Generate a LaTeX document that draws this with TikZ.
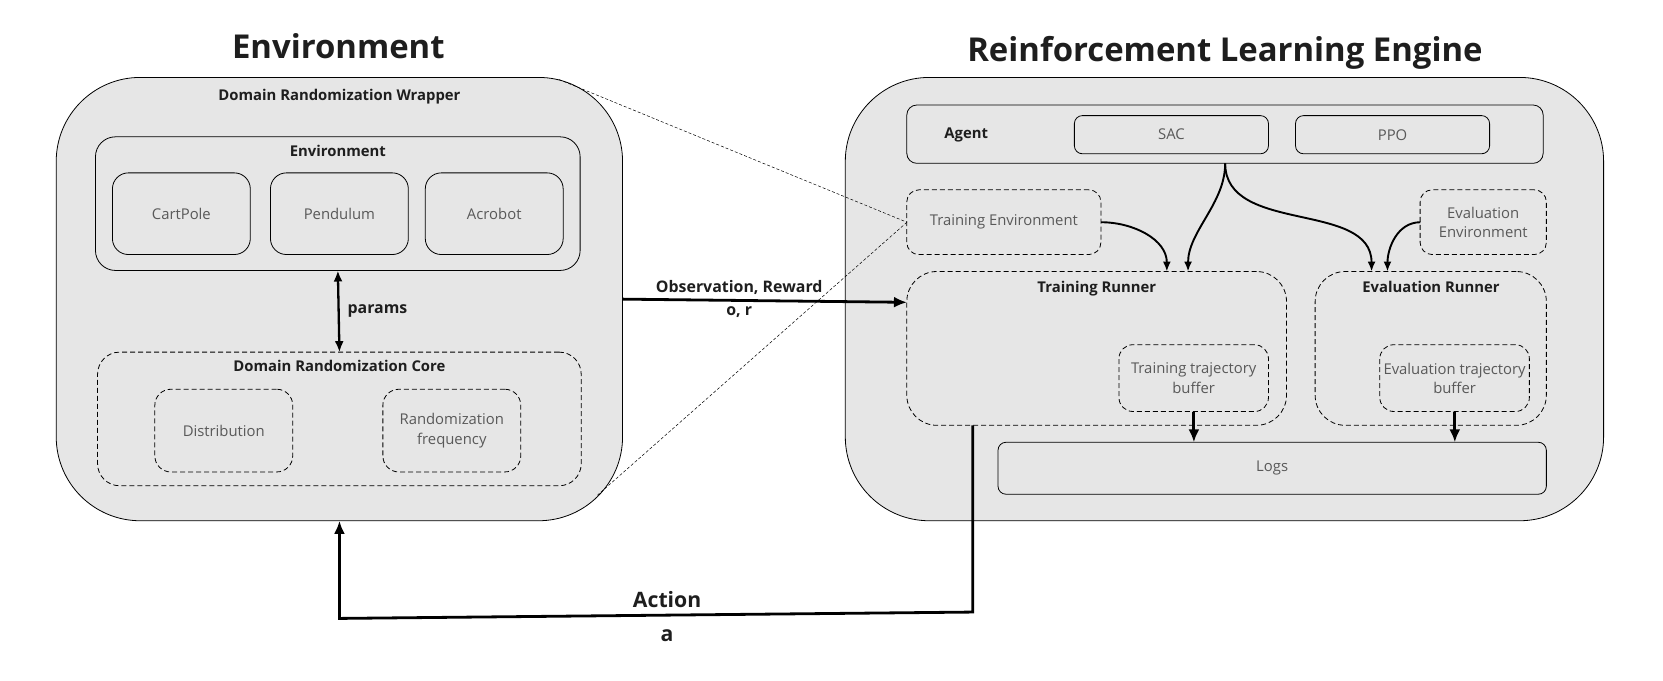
\documentclass[tikz,border=0pt]{standalone}
\usepackage{fontspec}
\setmainfont{Open Sans}
\usetikzlibrary{shapes,arrows,arrows.meta,calc,positioning,backgrounds}

\definecolor{boxgray}{HTML}{E6E6E6}
\definecolor{txtgray}{HTML}{595959}
\definecolor{ttlblack}{HTML}{1E1E1E}

\begin{document}
\begin{tikzpicture}[x=1pt,y=-1pt,scale=1.0606,transform shape,
  box/.style={draw,fill=boxgray,rectangle,rounded corners=#1,inner sep=0pt,outer sep=0pt,line width=0.8pt},
  box/.default=16pt,
  dbox/.style={box=#1,dash pattern=on 5pt off 3pt},
  dbox/.default=16pt,
  item/.style={text=txtgray,font=\fontsize{14}{18}\selectfont,align=center},
  ttl/.style={text=ttlblack,font=\fontsize{14}{18}\selectfont\bfseries},
  lbl/.style={text=ttlblack,font=\fontsize{15}{19}\selectfont\bfseries},
  big/.style={text=ttlblack,font=\fontsize{31}{36}\selectfont\bfseries},
  flow/.style={-{Latex[length=13pt,width=11pt]},line width=2.8pt},
  curvearrow/.style={-{Latex[length=10pt,width=8pt]},line width=1.9pt},
  zoomline/.style={line width=0.5pt,dash pattern=on 3pt off 2pt}]

  \useasboundingbox (0,0) rectangle (1568,641.2);

  % left side
  \node (wrap) [box=84pt,minimum width=534pt,minimum height=418pt] at (320,282) {};
  \node (envtitle) [big] at (319,44) {Environment};
  \node [ttl,below=8pt of wrap.north] {Domain Randomization Wrapper};

  \node (env) [box=20pt,minimum width=457pt,minimum height=126pt] at (318.5,192) {};
  \node [ttl,below=4pt of env.north] {Environment};
  \node (cart) [box=16pt,item,minimum width=130pt,minimum height=77pt] at (171,201.5) {CartPole};
  \node (pend) [box=16pt,item,minimum width=130pt,minimum height=77pt] at (320,201.5) {Pendulum};
  \node (acro) [box=16pt,item,minimum width=130pt,minimum height=77pt] at (466,201.5) {Acrobot};

  \node (core) [dbox=22pt,minimum width=456pt,minimum height=126pt] at (320,395) {};
  \node [ttl,below=4pt of core.north] {Domain Randomization Core};
  \node (dist) [dbox,item,minimum width=130pt,minimum height=78pt] at (211,406) {Distribution};
  \node (freq) [dbox,item,minimum width=130pt,minimum height=78pt] at (426,406) {Randomization\\frequency};

  \draw[{Latex[length=11pt,width=9pt]}-{Latex[length=11pt,width=9pt]},line width=2.3pt] (env.south) -- (core.north)
    node[lbl,midway,right=4pt] {params};

  % right side
  \node (engine) [box=84pt,minimum width=715pt,minimum height=418pt] at (1154.5,282) {};
  \node (engtitle) [big] at (1155,50) {Reinforcement Learning Engine};

  \node (agent) [box=10pt,minimum width=600pt,minimum height=55pt] at (1155,126.5) {};
  \node [ttl] at (911,127) {Agent};
  \node (sac) [box=8pt,item,minimum width=183pt,minimum height=36pt] at (1104.5,127) {SAC};
  \node (ppo) [box=8pt,item,minimum width=183pt,minimum height=36pt] at (1313,127) {PPO};

  \node (trenv) [dbox=12pt,item,minimum width=183pt,minimum height=61pt] at (946.5,209.5) {Training Environment};
  \node (evenv) [dbox=12pt,item,minimum width=119pt,minimum height=61pt] at (1398.5,209.5) {Evaluation\\Environment};

  \node (trrun) [dbox=30pt,minimum width=358pt,minimum height=145pt] at (1034,328.5) {};
  \node [ttl,below=6pt of trrun.north] {Training Runner};
  \node (trbuf) [dbox=14pt,item,minimum width=141pt,minimum height=63pt] at (1125.5,356.5) {Training trajectory\\buffer};

  \node (evrun) [dbox=30pt,minimum width=218pt,minimum height=145pt] at (1349,328.5) {};
  \node [ttl,below=6pt of evrun.north] {Evaluation Runner};
  \node (evbuf) [dbox=14pt,item,minimum width=141pt,minimum height=63pt] at (1371.5,356.5) {Evaluation trajectory\\buffer};

  \node (logs) [box=8pt,item,minimum width=517pt,minimum height=49pt] at (1199.5,441.5) {Logs};

  % connector ends
  \coordinate (tr1) at (1100,256);
  \coordinate (tr2) at (1120,256);
  \coordinate (ev1) at (1293,256);
  \coordinate (ev2) at (1308,256);
  \coordinate (obsin) at (855,285);
  \coordinate (actout) at (917,401);
  \coordinate (act1) at (917,577);
  \coordinate (act2) at (320,583);
  \coordinate (zt) at (527,75);
  \coordinate (zb) at (563,467);

  \draw[curvearrow] (trenv.east) to[out=0,in=90] (tr1);
  \draw[curvearrow] (agent.south) to[out=-90,in=90,looseness=0.9] (tr2);
  \draw[curvearrow] (agent.south) to[out=-90,in=90] (ev1);
  \draw[curvearrow] (evenv.west) to[out=180,in=90] (ev2);

  \draw[flow] (trbuf.south) -- (trbuf.south |- logs.north);
  \draw[flow] (evbuf.south) -- (evbuf.south |- logs.north);

  \draw[flow] (wrap.east) -- (obsin)
    node[lbl,pos=0.41,above=1pt] {Observation, Reward}
    node[lbl,pos=0.41,below=1pt] {o, r};

  \draw[flow] (actout) -- (act1) -- (act2) -- (wrap.south);
  \node [text=ttlblack,font=\fontsize{20}{24}\selectfont\bfseries] at (629,565) {Action};
  \node [text=ttlblack,font=\fontsize{20}{24}\selectfont\bfseries] at (629,599) {a};

  \draw[zoomline] (zt) -- (trenv.west);
  \draw[zoomline] (zb) -- (trenv.west);
\end{tikzpicture}
\end{document}
